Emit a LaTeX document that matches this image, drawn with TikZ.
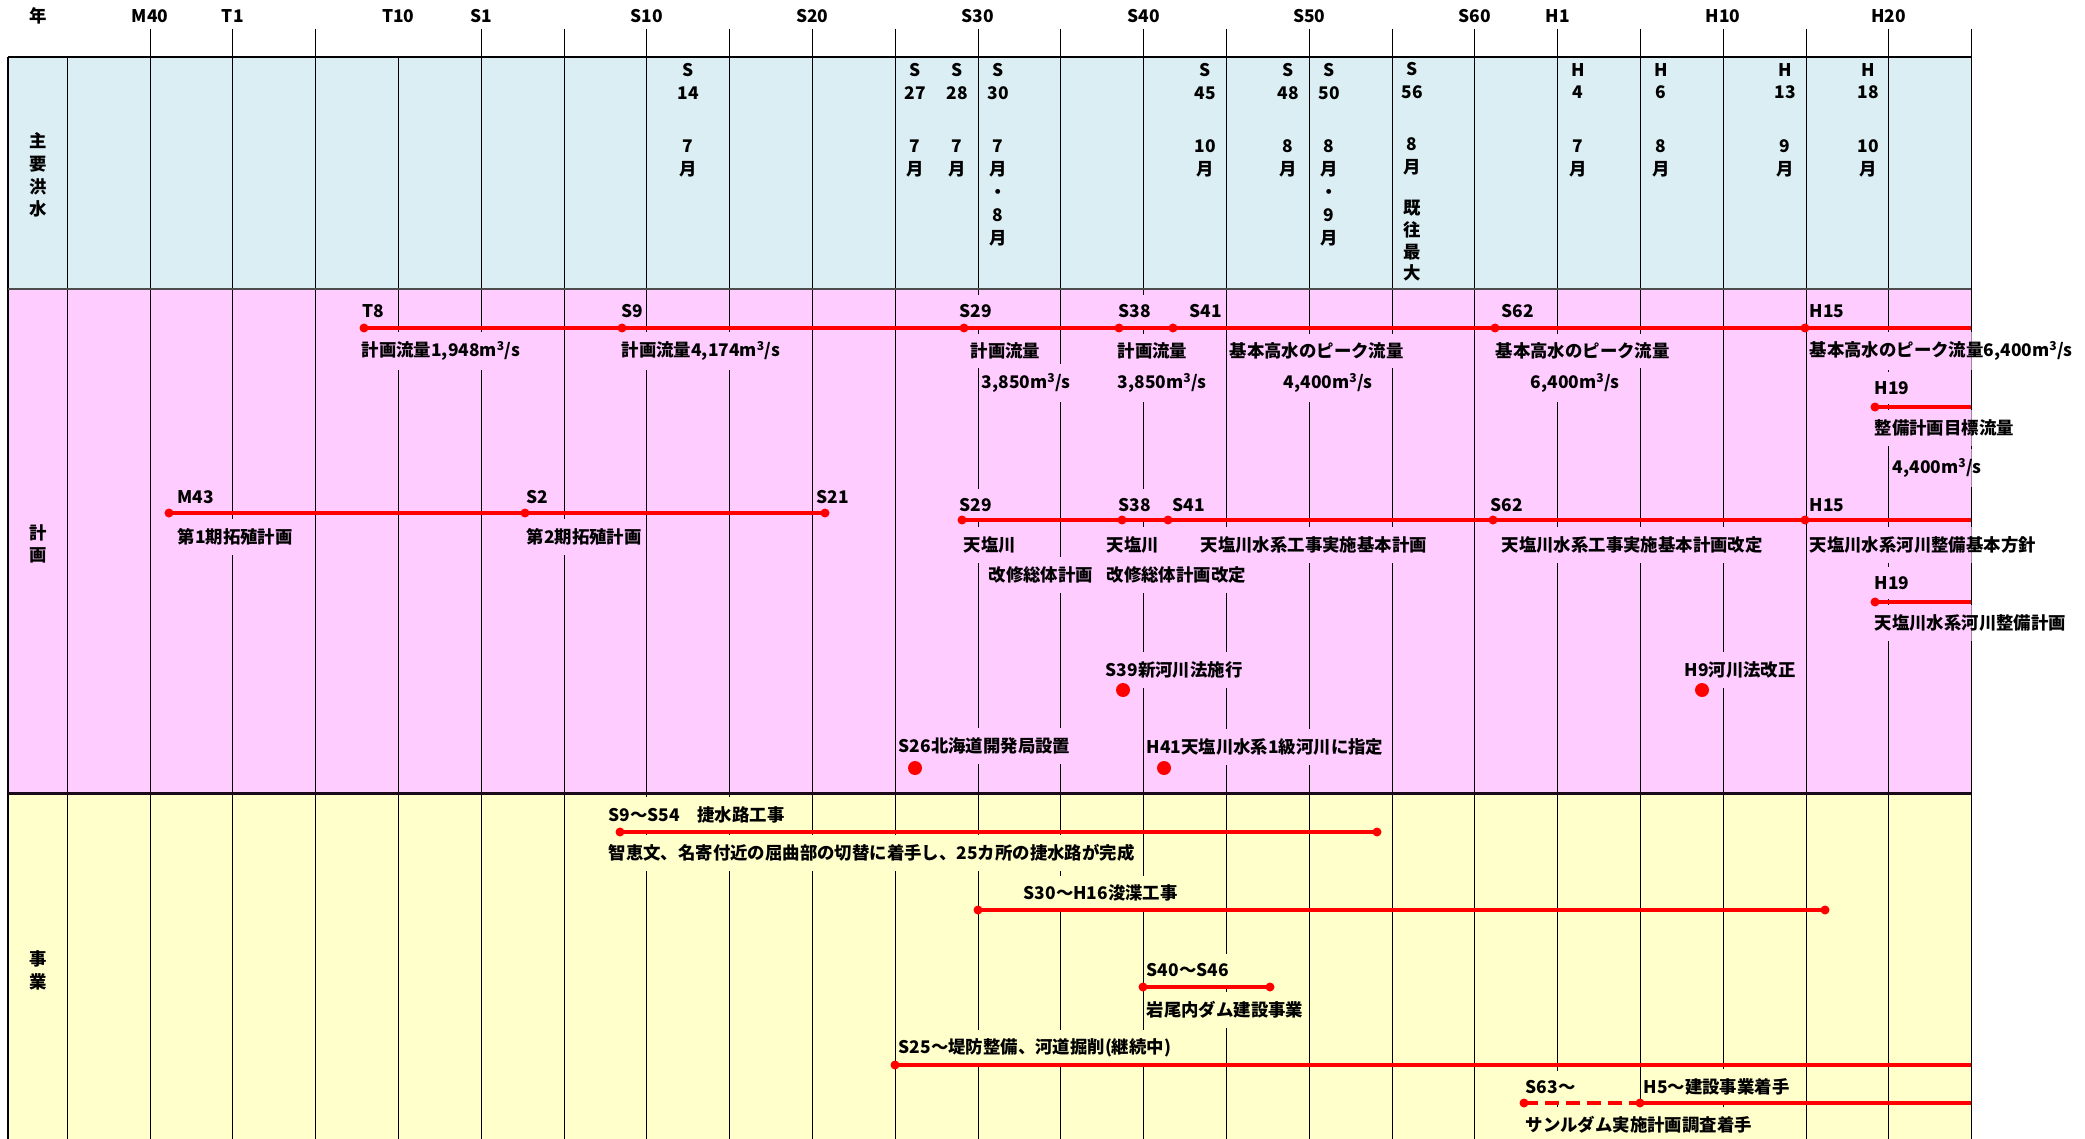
\documentclass[tikz,border=0pt]{standalone}
\usepackage{fontspec}
\setmainfont{Noto Sans CJK JP}
\usetikzlibrary{backgrounds}

\definecolor{floodbg}{HTML}{DAEEF3}
\definecolor{planbg}{HTML}{FFCCFF}
\definecolor{workbg}{HTML}{FFFFCC}
\definecolor{framedark}{HTML}{1A0A1A}

\tikzset{
  gridline/.style={black, line width=1pt},
  tline/.style={red, line width=4pt},
  tdash/.style={red, line width=4pt, dash pattern=on 14pt off 7pt},
  tdot/.style={red},
  lbl/.style={anchor=west, inner xsep=1.5pt, inner ysep=9pt},
  flood/.style={anchor=north, align=center, inner sep=0pt},
  yr/.style={inner sep=0pt},
  rowhead/.style={align=center, inner sep=0pt}
}
\newcommand{\cms}{m\textsuperscript{3}/s}

\begin{document}
\begin{tikzpicture}[x=1pt, y=-1pt, font=\fontsize{17.4pt}{22.8pt}\selectfont\bfseries]
  \useasboundingbox (0,0) rectangle (2085,1139);

  % years
  \node[yr] (yrhead) at (38,16) {年};
  \foreach \k/\t in {0/M40,1/T1,3/T10,4/S1,6/S10,8/S20,10/S30,12/S40,14/S50,16/S60,17/H1,19/H10,21/H20}
    \node[yr] (yr\k) at ({150+82.8*\k},16) {\t};

  \node[rowhead] (hflood) at (38,175) {主\\要\\洪\\水};
  \node[rowhead] (hplan) at (38,544) {計\\画};
  \node[rowhead] (hwork) at (38,970) {事\\業};

  % major floods
  \node[flood] (fS14) at (688,63) {S\\14\\[31pt]7\\月};
  \node[flood] (fS27) at (915,63) {S\\27\\[31pt]7\\月};
  \node[flood] (fS28) at (957,63) {S\\28\\[31pt]7\\月};
  \node[flood] (fS30) at (998,63) {S\\30\\[31pt]7\\月\\・\\8\\月};
  \node[flood] (fS45) at (1205,63) {S\\45\\[31pt]10\\月};
  \node[flood] (fS48) at (1288,63) {S\\48\\[31pt]8\\月};
  \node[flood] (fS50) at (1329,63) {S\\50\\[31pt]8\\月\\・\\9\\月};
  \node[flood] (fS56) at (1412,62) {S\\56\\[30pt]8\\月\\[18pt]既\\[-1pt]往\\[-1pt]最\\[-1pt]大};
  \node[flood] (fH4) at (1578,63) {H\\4\\[31pt]7\\月};
  \node[flood] (fH6) at (1661,63) {H\\6\\[31pt]8\\月};
  \node[flood] (fH13) at (1785,63) {H\\13\\[31pt]9\\月};
  \node[flood] (fH18) at (1868,63) {H\\18\\[31pt]10\\月};

  % plan: design discharge
  \node[lbl] (laT8) at (361,311) {T8};
  \node[lbl] (laS9) at (620,311) {S9};
  \node[lbl] (laS29) at (958,311) {S29};
  \node[lbl] (laS38) at (1117,311) {S38};
  \node[lbl] (laS41) at (1188,311) {S41};
  \node[lbl] (laS62) at (1500,311) {S62};
  \node[lbl] (laH15) at (1808,311) {H15};
  \node[lbl] (qa1) at (360,351) {計画流量1,948\cms};
  \node[lbl] (qa2) at (620,351) {計画流量4,174\cms};
  \node[lbl] (qa3) at (969,351) {計画流量};
  \node[lbl] (qa4) at (1116,351) {計画流量};
  \node[lbl] (qa5) at (1228,351) {基本高水のピーク流量};
  \node[lbl] (qa6) at (1494,351) {基本高水のピーク流量};
  \node[lbl] (qa7) at (1808,351) {基本高水のピーク流量6,400\cms};
  \node[lbl] (va3) at (980,383) {3,850\cms};
  \node[lbl] (va4) at (1116,383) {3,850\cms};
  \node[lbl] (va5) at (1282,383) {4,400\cms};
  \node[lbl] (va6) at (1529,383) {6,400\cms};
  \node[lbl] (lH19a) at (1873,388) {H19};
  \node[lbl] (qH19a) at (1873,428) {整備計画目標流量};
  \node[lbl] (vH19a) at (1891,468) {4,400\cms};

  \coordinate (aT8) at (364,328);
  \coordinate (aS9) at (622,328);
  \coordinate (aS29) at (964,328);
  \coordinate (aS38) at (1119,328);
  \coordinate (aS41) at (1173,328);
  \coordinate (aS62) at (1495,328);
  \coordinate (aH15) at (1805,328);
  \coordinate (aEnd) at (1971,328);
  \coordinate (hA) at (1875,407);
  \coordinate (hAEnd) at (1971,407);
  \draw[tline] (aT8) -- (aS9) -- (aS29) -- (aS38) -- (aS41) -- (aS62) -- (aH15) -- (aEnd);
  \draw[tline] (hA) -- (hAEnd);

  % plan: colonisation
  \node[lbl] (lbM43) at (176,497) {M43};
  \node[lbl] (lbS2) at (525,497) {S2};
  \node[lbl] (lbS21) at (815,497) {S21};
  \node[lbl] (qbM43) at (176,537) {第1期拓殖計画};
  \node[lbl] (qbS2) at (525,537) {第2期拓殖計画};
  \coordinate (bM43) at (169,513);
  \coordinate (bS2) at (525,513);
  \coordinate (bS21) at (825,513);
  \draw[tline] (bM43) -- (bS2) -- (bS21);

  % plan: river improvement
  \node[lbl] (lcS29) at (958,505) {S29};
  \node[lbl] (lcS38) at (1117,505) {S38};
  \node[lbl] (lcS41) at (1171,505) {S41};
  \node[lbl] (lcS62) at (1489,505) {S62};
  \node[lbl] (lcH15) at (1808,505) {H15};
  \node[lbl] (qcS29) at (962,545) {天塩川};
  \node[lbl] (qcS38) at (1105,545) {天塩川};
  \node[lbl] (qcS41) at (1199,545) {天塩川水系工事実施基本計画};
  \node[lbl] (qcS62) at (1500,545) {天塩川水系工事実施基本計画改定};
  \node[lbl] (qcH15) at (1808,545) {天塩川水系河川整備基本方針};
  \node[lbl] (rcS29) at (987,575) {改修総体計画};
  \node[lbl] (rcS38) at (1105,575) {改修総体計画改定};
  \node[lbl] (lH19c) at (1873,583) {H19};
  \node[lbl] (qH19c) at (1873,623) {天塩川水系河川整備計画};

  \coordinate (cS29) at (962,520);
  \coordinate (cS38) at (1122,520);
  \coordinate (cS41) at (1168,520);
  \coordinate (cS62) at (1493,520);
  \coordinate (cH15) at (1805,520);
  \coordinate (cEnd) at (1971,520);
  \coordinate (hC) at (1875,602);
  \coordinate (hCEnd) at (1971,602);
  \draw[tline] (cS29) -- (cS38) -- (cS41) -- (cS62) -- (cH15) -- (cEnd);
  \draw[tline] (hC) -- (hCEnd);

  \foreach \p in {aT8,aS9,aS29,aS38,aS41,aS62,aH15,hA,bM43,bS2,bS21,cS29,cS38,cS41,cS62,cH15,hC}
    \fill[tdot] (\p) circle[radius=4.5pt];

  % events
  \node[lbl] (eS39) at (1104,670) {S39新河川法施行};
  \node[lbl] (eH9) at (1683,670) {H9河川法改正};
  \node[lbl] (eS26) at (897,746) {S26北海道開発局設置};
  \node[lbl] (eH41) at (1145,747) {H41天塩川水系1級河川に指定};
  \coordinate (dS39) at (1123,690);
  \coordinate (dH9) at (1702,690);
  \coordinate (dS26) at (915,768);
  \coordinate (dH41) at (1164,768);
  \foreach \p in {dS39,dH9,dS26,dH41}
    \fill[tdot] (\p) circle[radius=7pt];

  % works
  \node[lbl] (wS9) at (607,815) {S9～S54　捷水路工事};
  \node[lbl] (wS9t) at (607,853) {智恵文、名寄付近の屈曲部の切替に着手し、25カ所の捷水路が完成};
  \node[lbl] (wS30) at (1022,893) {S30～H16浚渫工事};
  \node[lbl] (wS40) at (1145,970) {S40～S46};
  \node[lbl] (wS40t) at (1145,1010) {岩尾内ダム建設事業};
  \node[lbl] (wS25) at (897,1048) {S25～堤防整備、河道掘削(継続中)};
  \node[lbl] (wS63) at (1524,1087) {S63～};
  \node[lbl] (wH5) at (1642,1087) {H5～建設事業着手};
  \node[lbl] (wS63t) at (1524,1125) {サンルダム実施計画調査着手};

  \coordinate (wa) at (620,832);
  \coordinate (wb) at (1377,832);
  \coordinate (wc) at (978,910);
  \coordinate (wd) at (1825,910);
  \coordinate (we) at (1143,987);
  \coordinate (wf) at (1270,987);
  \coordinate (wg) at (895,1065);
  \coordinate (wgEnd) at (1971,1065);
  \coordinate (wh) at (1524,1103);
  \coordinate (wi) at (1640,1103);
  \coordinate (wiEnd) at (1971,1103);
  \draw[tline] (wa) -- (wb);
  \draw[tline] (wc) -- (wd);
  \draw[tline] (we) -- (wf);
  \draw[tline] (wg) -- (wgEnd);
  \draw[tdash] (wh) -- (wi);
  \draw[tline] (wi) -- (wiEnd);
  \foreach \p in {wa,wb,wc,wd,we,wf,wg,wh,wi}
    \fill[tdot] (\p) circle[radius=4.5pt];

  % table
  \begin{scope}[on background layer]
    \fill[floodbg] (8,57) rectangle (1971,289);
    \fill[planbg] (8,289) rectangle (1971,793);
    \fill[workbg] (8,793) rectangle (1971,1139);
    \draw[gridline] (67.6,57) -- (67.6,1139);
    \foreach \k in {0,...,22}
      \draw[gridline] ({150+82.8*\k},57) -- ({150+82.8*\k},1139);
    \foreach \k in {0,1,2,4,5,6,7,8,9,10,11,12,13,14,15,16,17,18,19,20,21,22}
      \draw[gridline] ({150+82.8*\k},29) -- ({150+82.8*\k},57);
    \begin{scope}
      \clip (8,57) rectangle (1971.6,1139);
      \foreach \n in {laT8,laS9,laS29,laS38,laS41,laS62,laH15,qa1,qa2,qa3,qa4,qa5,qa6,qa7,va3,va4,va5,va6,
                      lH19a,qH19a,vH19a,lbM43,lbS2,lbS21,qbM43,qbS2,lcS29,lcS38,lcS41,lcS62,lcH15,
                      qcS29,qcS38,qcS41,qcS62,qcH15,rcS29,rcS38,lH19c,qH19c,eS39,eH9,eS26,eH41}
        \fill[planbg] (\n.south west) rectangle (\n.north east);
      \foreach \n in {wS9,wS9t,wS30,wS40,wS40t,wS25,wS63,wH5,wS63t}
        \fill[workbg] (\n.south west) rectangle (\n.north east);
    \end{scope}
    \draw[line width=1.5pt] (8,57) -- (1971,57);
    \draw[line width=1.5pt] (8,57) -- (8,1139);
    \draw[gray!60!black, line width=2pt] (8,289) -- (1971,289);
    \draw[framedark, line width=3pt] (8,793) -- (1971,793);
  \end{scope}
\end{tikzpicture}
\end{document}
